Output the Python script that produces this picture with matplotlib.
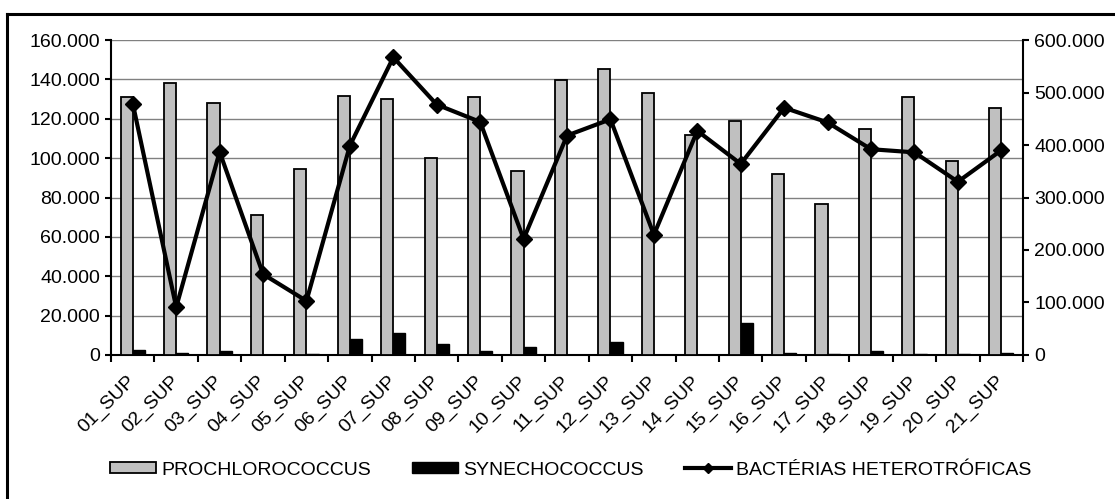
import matplotlib.pyplot as plt
import numpy as np
from matplotlib.ticker import FuncFormatter, MultipleLocator
from matplotlib.lines import Line2D

plt.rcParams['font.family'] = ['Liberation Sans', 'DejaVu Sans']

# stations
estacoes = ['%02d_SUP' % i for i in range(1, 22)]

# cell counts
prochlorococcus = [131000, 138000, 128000, 71000, 94500, 131500, 130000,
                   100000, 131000, 93500, 139500, 145500, 133000, 112000,
                   119000, 92000, 76500, 115000, 131000, 98500, 125500]
synechococcus = [2700, 1200, 2200, 200, 700, 8300, 11400,
                 5400, 2200, 4300, 100, 6800, 100, 100,
                 16000, 1200, 600, 2200, 600, 600, 1100]
bacterias = [479000, 91000, 387000, 154000, 103000, 399000, 567000,
             477000, 444000, 221000, 418000, 449000, 229000, 427000,
             364000, 471000, 443000, 392000, 386000, 330000, 390000]

def milhar(v, pos):
    return f"{int(round(v)):,}".replace(',', '.')

fs = 14

fig = plt.figure(figsize=(11.15, 4.99), dpi=100)
ax = fig.add_axes([0.0996, 0.2886, 0.8179, 0.6312])
ax2 = ax.twinx()

x = np.arange(len(estacoes))
w = 0.28
ax.bar(x - w/2, prochlorococcus, w, color='#c0c0c0', edgecolor='black',
       linewidth=1.3, zorder=3, label='PROCHLOROCOCCUS')
ax.bar(x + w/2, synechococcus, w, color='black', edgecolor='black',
       linewidth=1.0, zorder=3, label='SYNECHOCOCCUS')

ax2.plot(x, bacterias, color='black', lw=3, marker='D', markersize=8,
         zorder=4, label='BACTÉRIAS HETEROTRÓFICAS')

ax.set_xlim(-0.5, len(estacoes) - 0.5)
ax.set_ylim(0, 160000)
ax2.set_ylim(0, 600000)
ax.yaxis.set_major_locator(MultipleLocator(20000))
ax2.yaxis.set_major_locator(MultipleLocator(100000))
ax.yaxis.set_major_formatter(FuncFormatter(milhar))
ax2.yaxis.set_major_formatter(FuncFormatter(milhar))

ax.yaxis.grid(True, color='#808080', lw=1.0, zorder=0)
ax.set_axisbelow(True)

# tick marks between categories, labels at category centres
ax.set_xticks(np.arange(-0.5, len(estacoes) + 0.5, 1))
ax.set_xticklabels([])
ax.set_xticks(x, minor=True)
ax.set_xticklabels(estacoes, minor=True, rotation=45, ha='right',
                   va='center', rotation_mode='anchor', fontsize=fs)
ax.tick_params(axis='x', which='minor', length=0, pad=17)
ax.tick_params(axis='x', which='major', length=5, width=1.5, direction='out')
ax.tick_params(axis='y', length=4, width=1.5, labelsize=fs, pad=4)
ax2.tick_params(axis='y', length=4, width=1.5, labelsize=fs, pad=4)

for s in ['top', 'right']:
    ax.spines[s].set_visible(False)
for s in ['top', 'left', 'bottom']:
    ax2.spines[s].set_visible(False)
ax.spines['left'].set_linewidth(1.5)
ax.spines['bottom'].set_linewidth(1.5)
ax2.spines['right'].set_linewidth(1.5)

# legend
h1, l1 = ax.get_legend_handles_labels()
h2, l2 = ax2.get_legend_handles_labels()
h2 = [Line2D([], [], color='black', lw=3, marker='D', markersize=5)]
fig.legend(h1 + h2, l1 + l2, ncol=3, loc='center', bbox_to_anchor=(0.5117, 0.058),
           frameon=False, fontsize=fs, handlelength=2.4, handleheight=0.46,
           handletextpad=0.25, columnspacing=2.1)

# outer frame
fig.add_artist(Line2D([7/1115, 7/1115], [0, 1 - 14/499], color='black', lw=2.2,
                      transform=fig.transFigure))
fig.add_artist(Line2D([7/1115, 1], [1 - 14/499, 1 - 14/499], color='black', lw=2.2,
                      transform=fig.transFigure))

fig.savefig('out.png', dpi=100)
